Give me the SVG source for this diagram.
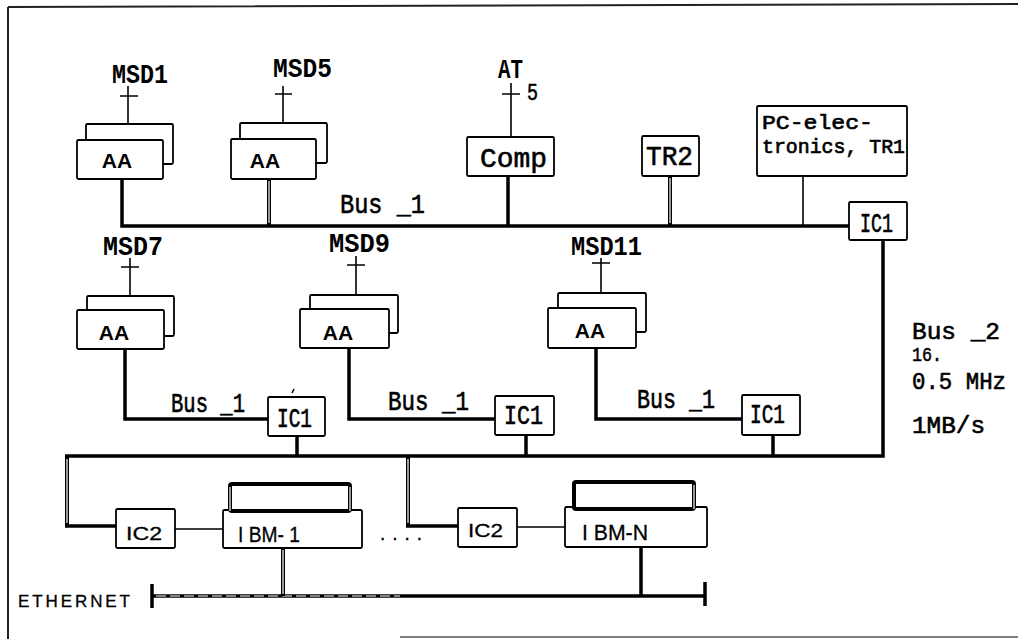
<svg xmlns="http://www.w3.org/2000/svg" width="1018" height="639" viewBox="0 0 1018 639">
<style>
.bx{fill:#fff;stroke:#000;stroke-width:1.8}
.frame{fill:none;stroke:#222;stroke-width:2}
.bus{fill:none;stroke:#000;stroke-width:3.5;stroke-linejoin:miter}
.thin{fill:none;stroke:#000;stroke-width:1.6}
.hol{fill:none;stroke:#000;stroke-width:4}
.holin{fill:none;stroke:#fff;stroke-width:1.2}
.mon{fill:#fff;stroke:#000;stroke-width:4}
.lbl{font-family:"Liberation Mono","DejaVu Sans Mono",monospace;font-weight:bold;font-size:27px;fill:#000}
.lbn{font-family:"Liberation Mono","DejaVu Sans Mono",monospace;font-weight:normal;font-size:27px;fill:#000;stroke:#000;stroke-width:0.6}
.md{font-size:24px}
.pc{font-size:21px;stroke-width:0.7}
.sm{font-size:20px;stroke-width:0.5}
.aa{font-family:"Liberation Sans","DejaVu Sans",sans-serif;font-weight:bold;font-size:21px;fill:#000;text-anchor:middle}
.sans{font-family:"Liberation Sans","DejaVu Sans",sans-serif;font-size:19px;fill:#000;stroke:#000;stroke-width:0.3}
.ibm{font-size:22px}
.eth{font-family:"Liberation Sans","DejaVu Sans",sans-serif;font-size:17px;fill:#000;stroke:#000;stroke-width:0.3}
</style>

<g id="frame">
<path class="frame" d="M8 7 L1018 4 M8 7 V639"/>
<path d="M400 637 H1018" stroke="#555" stroke-width="1.5" fill="none"/>
</g>

<g id="connectors">
<path class="bus" d="M122 179 V226 H849"/>
<path class="bus" d="M508 176 V226"/>
<path class="thin" d="M803 176 V226" stroke-width="2.2"/>
<path class="hol" d="M269 179 V226 M670 176 V226"/>
<path class="holin" d="M269 181 V223 M670 178 V223"/>
<path class="bus" d="M883 240 V456 H65"/>
<path class="bus" d="M297 436 V456 M526 435 V456 M773 435 V456" stroke-width="3"/>
<path class="hol" d="M67 456 V526 M408 456 V526"/>
<path class="holin" d="M67 459 V523 M408 459 V523"/>
<path class="bus" d="M65 526 H116 M406 526 H458"/>
<path class="bus" d="M125 349 V419 H268 M349 348 V419 H495 M596 348 V419 H742"/>
<path class="thin" d="M175 529 H223 M517 527 H565"/>
<path class="bus" d="M152 596 H705" stroke-width="3"/>
<path class="holin" d="M156 596 H400" stroke-dasharray="10 4" stroke-width="0.8"/>
<path class="bus" d="M152 584 V608 M705 582 V606" stroke-width="3"/>
<path class="hol" d="M283 548 V596"/>
<path class="holin" d="M283 550 V594"/>
<path class="bus" d="M641 547 V596" stroke-width="3"/>
<path class="thin" d="M128 86 V124 M120 96 H138 M283 86 V123 M275 94 H292 M511 83 V137 M502 94 H520 M130 258 V296 M121 267 H139 M356 256 V295 M347 265 H365 M601 258 V293 M592 263 H610"/>
<path class="thin" d="M294 389 L292 393" stroke-width="1.2"/>
</g>

<g id="aa1"><rect class="bx" x="86" y="124" width="87" height="40" rx="1.5"/><rect class="bx" x="77" y="140" width="86" height="39" rx="1.5"/><text class="aa" x="117" y="168">AA</text><text class="lbl" x="112" y="83" textLength="56" lengthAdjust="spacingAndGlyphs">MSD1</text></g>
<g id="aa2"><rect class="bx" x="240" y="123" width="87" height="40" rx="1.5"/><rect class="bx" x="231" y="139" width="85" height="40" rx="1.5"/><text class="aa" x="265" y="168">AA</text><text class="lbl" x="273" y="77" textLength="59" lengthAdjust="spacingAndGlyphs">MSD5</text></g>
<g id="comp"><rect class="bx" x="467" y="137" width="87" height="39" rx="1.5"/><text class="lbn" x="480" y="167" textLength="67" lengthAdjust="spacingAndGlyphs">Comp</text><text class="lbl" x="498" y="78" textLength="25" lengthAdjust="spacingAndGlyphs">AT</text><text class="lbn md" x="527" y="100" textLength="11" lengthAdjust="spacingAndGlyphs">5</text></g>
<g id="tr2"><rect class="bx" x="642" y="136" width="57" height="40" rx="1.5"/><text class="lbn" x="646" y="165" textLength="47" lengthAdjust="spacingAndGlyphs">TR2</text></g>
<g id="pc"><rect class="bx" x="757" y="106" width="150" height="70" rx="1.5"/><text class="lbn pc" x="762" y="129" textLength="111" lengthAdjust="spacingAndGlyphs">PC-elec-</text><text class="lbn pc" x="762" y="153" textLength="143" lengthAdjust="spacingAndGlyphs">tronics, TR1</text></g>
<g id="ic1top"><rect class="bx" x="849" y="202" width="58" height="38" rx="1.5"/><text class="lbn" x="860" y="232" textLength="33" lengthAdjust="spacingAndGlyphs">IC1</text></g>
<text class="lbn" x="340" y="213" textLength="85" lengthAdjust="spacingAndGlyphs">Bus  _1</text>

<g id="aa3"><rect class="bx" x="87" y="296" width="87" height="40" rx="1.5"/><rect class="bx" x="77" y="310" width="87" height="39" rx="1.5"/><text class="aa" x="114" y="340">AA</text><text class="lbl" x="103" y="255" textLength="60" lengthAdjust="spacingAndGlyphs">MSD7</text></g>
<g id="aa4"><rect class="bx" x="310" y="295" width="88" height="38" rx="1.5"/><rect class="bx" x="300" y="309" width="89" height="39" rx="1.5"/><text class="aa" x="338" y="340">AA</text><text class="lbl" x="329" y="252" textLength="61" lengthAdjust="spacingAndGlyphs">MSD9</text></g>
<g id="aa5"><rect class="bx" x="558" y="293" width="88" height="39" rx="1.5"/><rect class="bx" x="548" y="308" width="88" height="40" rx="1.5"/><text class="aa" x="590" y="338">AA</text><text class="lbl" x="571" y="255" textLength="71" lengthAdjust="spacingAndGlyphs">MSD11</text></g>

<g id="ic1a"><rect class="bx" x="268" y="397" width="57" height="39" rx="1.5"/><text class="lbn" x="277" y="427" textLength="35" lengthAdjust="spacingAndGlyphs">IC1</text></g>
<g id="ic1b"><rect class="bx" x="495" y="396" width="59" height="39" rx="1.5"/><text class="lbn" x="504" y="424" textLength="39" lengthAdjust="spacingAndGlyphs">IC1</text></g>
<g id="ic1c"><rect class="bx" x="742" y="395" width="58" height="40" rx="1.5"/><text class="lbn" x="750" y="423" textLength="35" lengthAdjust="spacingAndGlyphs">IC1</text></g>
<text class="lbn" x="171" y="412" textLength="74" lengthAdjust="spacingAndGlyphs">Bus _1</text>
<text class="lbn" x="388" y="410" textLength="81" lengthAdjust="spacingAndGlyphs">Bus _1</text>
<text class="lbn" x="637" y="408" textLength="78" lengthAdjust="spacingAndGlyphs">Bus _1</text>

<g id="bus2label">
<text class="lbn md" x="912" y="339" textLength="88" lengthAdjust="spacingAndGlyphs">Bus _2</text>
<text class="lbn sm" x="912" y="361" textLength="30" lengthAdjust="spacingAndGlyphs">16.</text>
<text class="lbn md" x="912" y="389" textLength="94" lengthAdjust="spacingAndGlyphs">0.5 MHz</text>
<text class="lbn md" x="912" y="433" textLength="73" lengthAdjust="spacingAndGlyphs">1MB/s</text>
</g>

<g id="ic2a"><rect class="bx" x="116" y="509" width="59" height="39" rx="1.5"/><text class="sans" x="126" y="540" textLength="36" lengthAdjust="spacingAndGlyphs">IC2</text></g>
<g id="ic2b"><rect class="bx" x="458" y="508" width="59" height="39" rx="1.5"/><text class="sans" x="468" y="537" textLength="35" lengthAdjust="spacingAndGlyphs">IC2</text></g>
<g id="ibm1"><rect class="bx" x="223" y="510" width="139" height="38" rx="1.5"/><rect class="mon" x="230" y="484" width="120" height="27" rx="2"/><path class="holin" d="M230 487 V511 M350 487 V511"/><text class="sans ibm" x="238" y="542" textLength="62" lengthAdjust="spacingAndGlyphs">I BM- 1</text></g>
<g id="ibmn"><rect class="bx" x="565" y="507" width="142" height="40" rx="1.5"/><rect class="mon" x="574" y="482" width="120" height="27" rx="2"/><path class="holin" d="M694 485 V509"/><text class="sans ibm" x="582" y="540" textLength="66" lengthAdjust="spacingAndGlyphs">I BM-N</text></g>
<text class="sans" x="380" y="540" textLength="42" lengthAdjust="spacing">....</text>
<text class="eth" x="18" y="607" textLength="112" lengthAdjust="spacing">ETHERNET</text>
</svg>
